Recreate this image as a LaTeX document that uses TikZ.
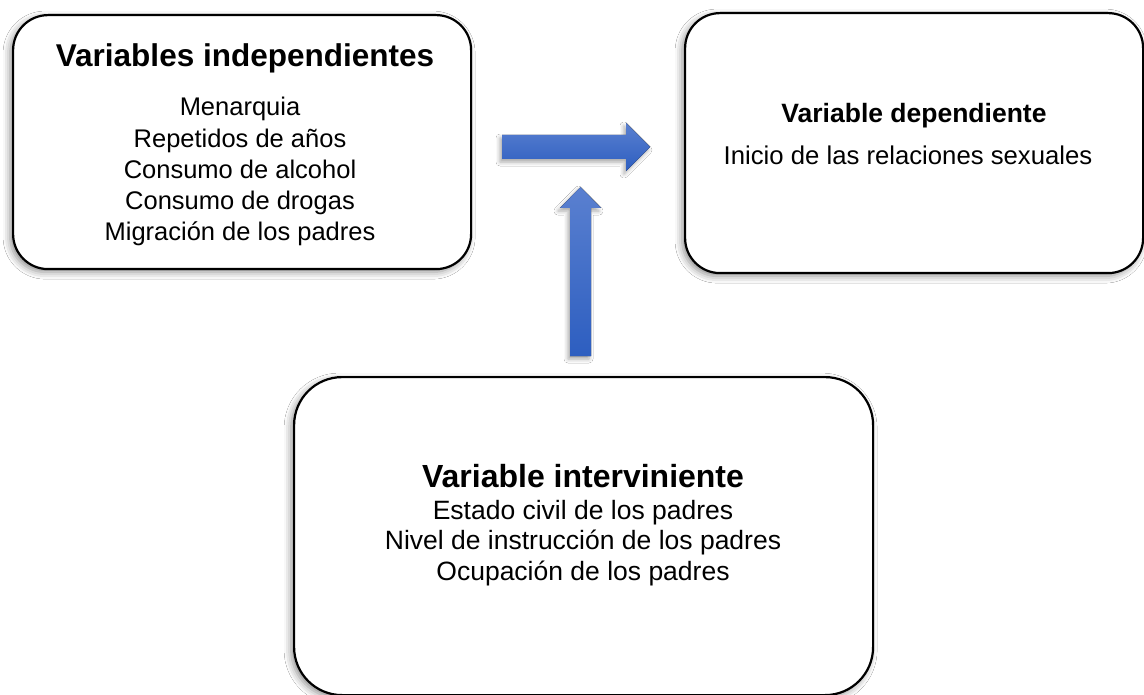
\documentclass[tikz,border=0pt]{standalone}
\usepackage{fontspec}
\setmainfont{Liberation Sans}
\usetikzlibrary{shadows.blur}
\definecolor{arrowtop}{HTML}{5A80D0}
\definecolor{arrowbot}{HTML}{2D5EC0}
\begin{document}
\begin{tikzpicture}[x=1pt,y=-1pt,
  box/.style={draw=black, line width=2.2pt, fill=white, rounded corners=#1,
    inner sep=0pt, anchor=north west,
    blur shadow={shadow xshift=-3pt, shadow yshift=-3pt, shadow blur radius=7pt, shadow opacity=45}},
  box/.default=35pt,
  txt/.style={inner sep=0pt, anchor=base},
  blockarrow/.style={top color=arrowtop, bottom color=arrowbot, draw=none,
    blur shadow={shadow xshift=-2pt, shadow yshift=-3pt, shadow blur radius=4pt, shadow opacity=35}}
]
\useasboundingbox[fill=white] (0,0) rectangle (1144,695);

% boxes
\node[box, minimum width=458pt, minimum height=254pt] (indep) at (12,14) {};
\node[box, minimum width=458pt, minimum height=260pt] (dep) at (684,12) {};
\node[box=48pt, minimum width=579pt, minimum height=318pt] (interv) at (293,376) {};

% left box texts
\node[txt, font=\fontsize{31.5}{36}\selectfont\bfseries] (indeptitle) at (245,67) {Variables independientes};
\foreach \t [count=\i] in {Menarquia,Repetidos de años,Consumo de alcohol,Consumo de drogas,Migración de los padres}
  \node[txt, font=\fontsize{25.5}{31}\selectfont] (indepline\i) at (240,{116+31.2*(\i-1)}) {\t};

% right box texts
\node[txt, font=\fontsize{26.5}{31}\selectfont\bfseries] (deptitle) at (914,123) {Variable dependiente};
\node[txt, font=\fontsize{25.7}{31}\selectfont] (depline1) at (908,165) {Inicio de las relaciones sexuales};

% bottom box texts
\node[txt, font=\fontsize{32}{36}\selectfont\bfseries] (intervtitle) at (583,487) {Variable interviniente};
\foreach \t [count=\i] in {Estado civil de los padres,Nivel de instrucción de los padres,Ocupación de los padres}
  \node[txt, font=\fontsize{26.5}{31}\selectfont] (intervline\i) at (583,{519+30.5*(\i-1)}) {\t};

% block arrows
\coordinate (hs) at (502,147);
\coordinate (ht) at (650,147);
\coordinate (vs) at (580.5,356);
\coordinate (vt) at (580.5,187);
\fill[blockarrow] ([yshift=12pt]hs) -- ([xshift=-24pt,yshift=12pt]ht) -- ([xshift=-24pt,yshift=24pt]ht)
  -- (ht) -- ([xshift=-24pt,yshift=-24pt]ht) -- ([xshift=-24pt,yshift=-12pt]ht) -- ([yshift=-12pt]hs) -- cycle;
\fill[blockarrow] ([xshift=-10.5pt]vs) -- ([xshift=-10.5pt,yshift=-21pt]vt) -- ([xshift=-20.5pt,yshift=-21pt]vt)
  -- (vt) -- ([xshift=20.5pt,yshift=-21pt]vt) -- ([xshift=10.5pt,yshift=-21pt]vt) -- ([xshift=10.5pt]vs) -- cycle;
\end{tikzpicture}
\end{document}
